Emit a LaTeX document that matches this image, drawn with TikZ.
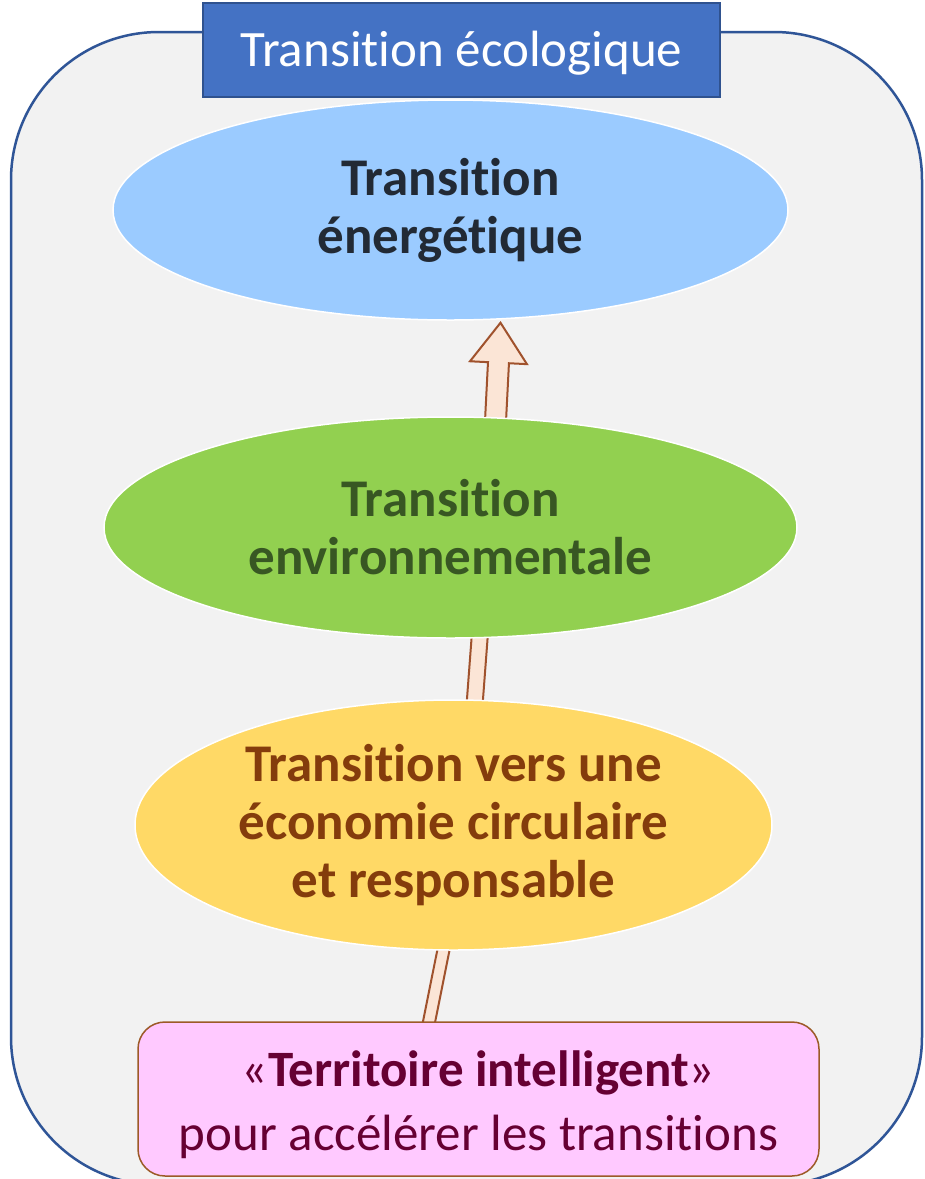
\documentclass[tikz,border=0pt]{standalone}
\usepackage{fontspec}
\setmainfont{Carlito}[RawFeature={-liga;-clig}]
\usetikzlibrary{shapes.geometric,calc}
\pgfdeclarelayer{back}
\pgfdeclarelayer{mid}
\pgfsetlayers{back,mid,main}
\definecolor{frameF}{HTML}{F2F2F2}
\definecolor{frameD}{HTML}{2F5597}
\definecolor{titleF}{HTML}{4472C4}
\definecolor{titleD}{HTML}{2F528F}
\definecolor{blueE}{HTML}{9BCBFF}
\definecolor{blueT}{HTML}{222A35}
\definecolor{greenE}{HTML}{92D050}
\definecolor{greenT}{HTML}{385723}
\definecolor{yellowE}{HTML}{FFD966}
\definecolor{yellowT}{HTML}{843C0C}
\definecolor{pinkF}{HTML}{FFC9FF}
\definecolor{pinkT}{HTML}{660033}
\definecolor{pinkD}{HTML}{9C5A28}
\definecolor{arrowF}{HTML}{FBE5D6}
\definecolor{arrowD}{HTML}{A0522D}
% #1 start, #2 tip, #3 shaft half width, #4 head half width, #5 head length
\newcommand\myblockarrow[5]{%
  \coordinate (ab) at ($(#2)!#5!(#1)$);
  \draw[blockarrow] ($(#1)!#3!90:(#2)$) -- ($(ab)!#3!90:(#2)$) -- ($(ab)!#4!90:(#2)$)
    -- (#2) -- ($(ab)!#4!-90:(#2)$) -- ($(ab)!#3!-90:(#2)$) -- ($(#1)!#3!-90:(#2)$) -- cycle;}
\begin{document}
\begin{tikzpicture}[x=1pt,y=-1pt,
  ell/.style={ellipse, draw=white, line width=1.5pt, inner sep=0pt, align=center,
    font=\fontsize{53}{58}\selectfont\bfseries},
  blockarrow/.style={fill=arrowF, draw=arrowD, line width=2pt, line join=miter},
  frame/.style={rectangle, rounded corners=148pt, fill=frameF, draw=frameD, line width=2.5pt},
  titlebox/.style={rectangle, fill=titleF, draw=titleD, line width=1.5pt, text=white,
    font=\fontsize{51}{58}\selectfont, inner sep=0pt},
  pinkbox/.style={rectangle, rounded corners=27pt, fill=pinkF, draw=pinkD, line width=1.5pt,
    text=pinkT, align=center, inner sep=0pt, font=\fontsize{51}{66}\selectfont}]
\useasboundingbox (0,0) rectangle (925,1179);
\begin{pgfonlayer}{back}
\node[frame, minimum width=911pt, minimum height=1153pt] (frame) at (466.5,608.5) {};
\end{pgfonlayer}
\node[titlebox, minimum width=517pt, minimum height=94pt] (title) at (461.5,50) {};
\node[text=white, font=\fontsize{51}{58}\selectfont, inner sep=0pt] (titletext) at (461.5,53) {Transition écologique};
\node[ell, fill=blueE, text=blueT, minimum width=675pt, minimum height=220pt] (ener) at (450.5,210)
  {Transition\\énergétique};
\node[ell, fill=greenE, text=greenT, minimum width=693pt, minimum height=221pt] (env) at (450.5,527.5)
  {Transition\\environnementale};
\node[ell, fill=yellowE, text=yellowT, minimum width=637pt, minimum height=250pt] (eco) at (453.5,825)
  {Transition vers une\\économie circulaire\\et responsable};
\node[pinkbox, minimum width=681pt, minimum height=154pt] (terr) at (478.5,1099) {};
\node[text=pinkT, align=center, inner sep=0pt, font=\fontsize{51}{64}\selectfont] (terrtext) at (478.5,1105)
  {«\textbf{Territoire intelligent}»\\pour accélérer les transitions};
\coordinate (a1s) at ($(env.center)+(40,-8)$);
\coordinate (a1t) at ($(ener.south)+(50,2)$);
\coordinate (a2s) at ($(eco.center)+(12,0)$);
\coordinate (a2t) at ($(env.center)+(35,32)$);
\coordinate (a3s) at ($(terr.north)+(-65,78)$);
\coordinate (a3t) at ($(eco.center)+(6,45)$);
\begin{pgfonlayer}{mid}
\myblockarrow{a1s}{a1t}{10.5pt}{28.5pt}{40pt}
\myblockarrow{a2s}{a2t}{8pt}{20pt}{30pt}
\myblockarrow{a3s}{a3t}{6pt}{16pt}{25pt}
\end{pgfonlayer}
\end{tikzpicture}
\end{document}
